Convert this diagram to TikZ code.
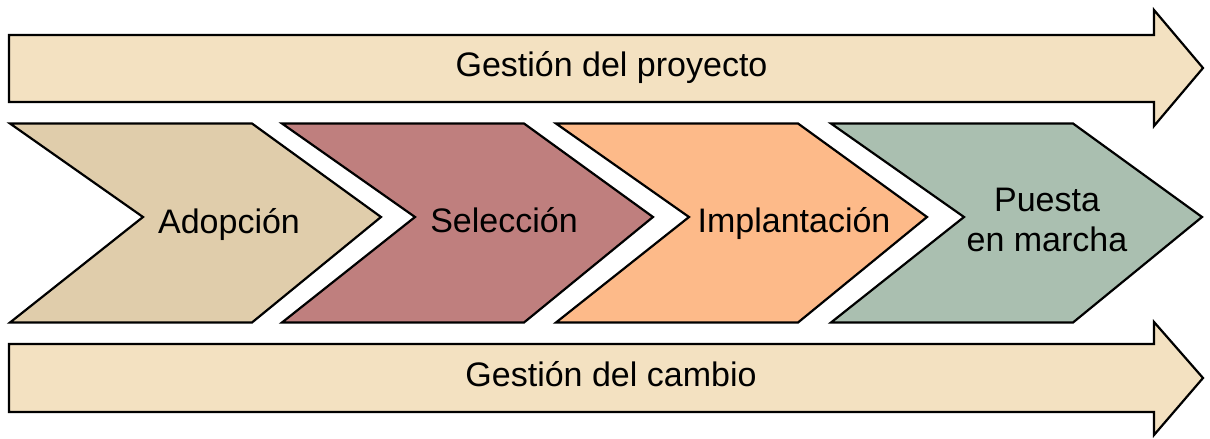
\documentclass[tikz,border=0pt]{standalone}
\usepackage{fontspec}
\setmainfont{Liberation Sans}
\definecolor{bandfill}{HTML}{F3E1C1}
\definecolor{chevA}{HTML}{E0CDAB}
\definecolor{chevB}{HTML}{BF7F7E}
\definecolor{chevC}{HTML}{FDBA89}
\definecolor{chevD}{HTML}{AABFB0}
\begin{document}
\begin{tikzpicture}[x=1pt,y=-1pt,
  shapeline/.style={draw=black,line width=2.2pt,line join=miter},
  lbl/.style={font=\fontsize{34}{40}\selectfont,anchor=base,inner sep=0pt,align=center}]
\useasboundingbox (0,0) rectangle (1210,439);
% top arrow
\path[shapeline,fill=bandfill] (9,35) -- (1154,35) -- (1154,10) -- (1203,68) -- (1154,126) -- (1154,102) -- (9,102) -- cycle;
% bottom arrow
\path[shapeline,fill=bandfill] (9,344) -- (1154,344) -- (1154,322) -- (1203,378) -- (1154,435) -- (1154,412) -- (9,412) -- cycle;
% chevrons
\foreach \L/\c in {10/chevA,282/chevB,556/chevC,831/chevD}{
  \path[shapeline,fill=\c] (\L,123.5) -- (\L+242,123.5) -- (\L+371,217) -- (\L+242,322.5) -- (\L,322.5) -- (\L+133,217) -- cycle;
}
\node[lbl] (proy) at (611.5,76.7) {Gestión del proyecto};
\node[lbl] (camb) at (611,386.7) {Gestión del cambio};
\node[lbl] (adop) at (229,233) {Adopción};
\node[lbl] (sele) at (504,232) {Selección};
\node[lbl] (impl) at (794,232) {Implantación};
\node[lbl] (pues) at (1047,251.7) {Puesta\\en marcha};
\end{tikzpicture}
\end{document}
